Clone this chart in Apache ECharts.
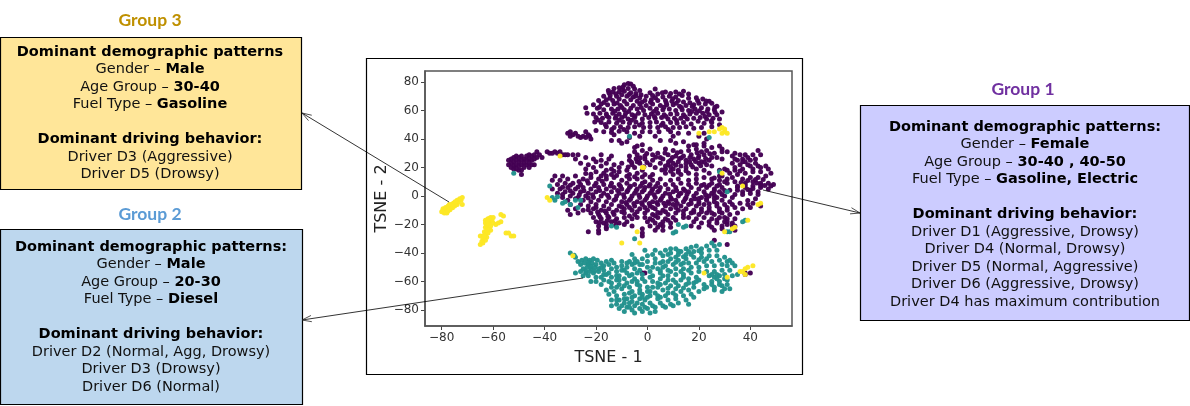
<!DOCTYPE html>
<html><head><meta charset="utf-8">
<style>html,body{margin:0;padding:0;background:#fff}#c{width:1190px;height:406px}</style>
<script src="https://cdn.jsdelivr.net/npm/echarts@6/dist/echarts.min.js"></script>
</head><body><div id="c"></div>
<script>
const xTicks=[-80,-60,-40,-20,0,20,40];
const yTicks=[-80,-60,-40,-20,0,20,40,60,80];
const group1Upper=[[-9,78],[-7.5,79],[-6.5,78.5],[-5.5,77],[-13,75.5],[-11,76],[-9.5,76.5],[-7.5,75.5],[-5,75],[-3,74],[-15,72.5],[-13.5,73],[-11,73],[-9,73.5],[-6.5,72.5],[-4.5,72],[-2.5,71],[1,72.5],[3,75],[7,73],[9,72],[11,73],[14,73.5],[16,71.5],[-17,70],[-14.5,70.5],[-12,70],[-10,71],[-8,70],[-5.5,69.5],[-3,69],[-0.5,70],[2,70.5],[4,71.5],[6,69.5],[8.5,70],[11,69.5],[13.5,70.5],[16,68.5],[-19,67],[-16,67.5],[-13.5,67],[-11,68],[-9,66.5],[-6.5,67.5],[-4,66.5],[-1,67],[1.5,67.5],[4,67],[7,67],[9.5,66.5],[12,67],[14,66],[16.5,65.5],[19.5,67],[21.5,68],[24,66.5],[-21,64],[-18,64.5],[-15.5,64],[-13,64.5],[-10.5,63.5],[-8,64.5],[-5.5,63.5],[-3,64.5],[-0.5,63.5],[2,64.5],[5,63.5],[7.5,64],[10,64],[12.5,63],[15,63.5],[18,64],[20,65],[22.5,64.5],[25,65],[27,63],[-24,62],[-19.5,61.5],[-17,60.5],[-14,61],[-11.5,61],[-9,60.5],[-6.5,61.5],[-4,61],[-1.5,60],[1,61.5],[3.5,61],[6,60.5],[8.5,61],[11,60],[13.5,60.5],[16,60],[18.5,61],[21,62],[23.5,61],[26,60.5],[29,59],[-23.5,58],[-21,57.5],[-18.5,58],[-16,57.5],[-13.5,58],[-11,57.5],[-8.5,58],[-6,57],[-3.5,58],[-1,57],[1.5,57.5],[4,58],[6.5,57],[9,57.5],[11.5,57.5],[14,57],[16.5,57.5],[19,58],[21.5,58],[24,57],[27,57],[-20,55],[-17.5,54.5],[-15,55],[-12.5,54.5],[-10,55],[-7.5,54],[-5,55],[-2,54],[0.5,55],[3,54.5],[5.5,55],[8,54],[10.5,54.5],[13,54.5],[15.5,54],[18,54.5],[20.5,55],[23,54],[25.5,54.5],[28,54],[-20.5,52],[-18,51.5],[-15,52],[-12,51],[-9.5,52],[-7,51],[-4.5,52],[-2,51],[1,51.5],[3.5,52],[6,51],[9,51.5],[11.5,51],[14,51.5],[17,50.5],[22,51],[25,51.5],[28,50],[-16,48.5],[-13,48],[-10.5,48.5],[-7.5,48],[-5,48.5],[-1.5,48],[1,48.5],[4,48],[7,48.5],[10,48],[12.5,48],[15,48.5],[18,47.5],[21,48],[25,48.5],[-20,46],[-17,45],[-14,44.5],[-11,45.5],[-8,45],[-5,44],[-2,45],[1,45],[4.5,45],[9,45],[12,44],[16,44],[-13,43],[-7,41],[-3,42],[3,42],[10,42],[20,42],[22,44],[23,40],[22,37],[-11,39],[-5,34],[-4,35],[5,39],[9,39],[11,37],[14,38],[18,36]];
const group1UpperDense=[[-15.2,74.1],[-12.3,71.8],[-9.8,74.6],[-7.2,71.2],[-11.8,65.3],[-14.6,68.6],[-16.9,65.6],[-18.7,62.3],[-12.7,59.4],[-9.9,62.1],[-7.3,59.2],[-15.8,56.2],[-12.2,55.9],[-8.8,56.1],[-19.2,53.4],[-16.4,50.1],[-11.1,53.2],[-4.6,70.2],[-2.2,65.8],[1.2,65.7],[3.1,68.9],[5.8,72.4],[7.3,65.4],[9.8,68.2],[12.4,71.6],[11.2,65.1],[13.2,62.1],[6.4,62.2],[2.4,59.2],[-2.4,62.1],[-4.8,56.3],[2.7,55.8],[7.2,55.7],[11.3,52.9],[14.7,55.6],[17.2,59.3],[20.2,59.9],[23.2,59.2],[22.4,55.8],[26.3,58.8],[24.8,52.6],[19.7,52.4],[-6.2,53.2],[-3.1,49.8],[5.4,49.7],[8.1,46.6],[-13.9,46.6],[-9.2,46.7],[17.4,62.8],[19,69],[22.8,66.7],[26.2,62.2]];
const group1Arm=[[-31,44],[-30,45],[-29,43],[-28,44],[-27,42],[-26,41],[-25,42],[-24,41],[-23,43],[-22.5,42],[-24,45],[-22,40],[-14,39],[-30,42]];
const group1Side=[[-54,25],[-53,26],[-52,27],[-51,28],[-50,27],[-49,28],[-48,26],[-47,28],[-46,29],[-45,28],[-44,29],[-43,31],[-42,29],[-41,27],[-53,23],[-52,24],[-51,25],[-50,24],[-49,25],[-48,23],[-47,25],[-46,26],[-45,25],[-44,26],[-43,27],[-54,22],[-52,21],[-51,22],[-50,21],[-49,22],[-48,20],[-47,22],[-46,23],[-53,20],[-52,19],[-50,18],[-49,18],[-51,19],[-46,20],[-44,22],[-45,22],[-49,15],[-39,31],[-38,30],[-37,30],[-36,31],[-35,30],[-34,31],[-33,29],[-32,29],[-31,29],[-29,29],[-27,29]];
const group1Middle=[[16,35],[19,36],[22,35],[25,34],[28,35],[29,33],[31,31],[34,30],[36,29],[43,32],[-5,31],[-2,32],[1,33],[4,30],[7,33],[10,32],[13,31],[16,32],[19,33],[21,31],[23,32],[26,30],[29,31],[33,28],[38,29],[41,29],[44,29],[-18,29],[-14,28],[-7,28],[-4,29],[-1,28],[2,29],[5,27],[8,29],[11,28],[14,28],[17,29],[20,28],[22,29],[25,27],[27,27],[37,26],[39,27],[42,26],[-28,26],[-24,27],[-21,26],[-18,25],[-15,26],[-7,25],[-4,24],[-1,26],[2,25],[6,26],[9,25],[12,24],[15,25],[18,26],[21,24],[24,25],[35,25],[37,24],[40,25],[-26,23],[-23,22],[-20,24],[-16,23],[-13,22],[-10,23],[-6,22],[-3,23],[1,22],[5,23],[8,22],[10,23],[13,21],[17,22],[20,23],[23,22],[33,23],[36,22],[39,22],[43,21],[46,21],[-24,19],[-21,20],[-18,21],[-14,19],[-11,20],[-8,18],[-5,20],[-2,18],[3,20],[7,19],[10,19],[12,18],[15,20],[19,19],[22,18],[30,19],[34,20],[37,19],[41,19],[44,20],[47,19],[-36,14],[-33,14],[-20,17],[-17,16],[-14,15],[-11,17],[-7,15],[-4,16],[-1,15],[2,15],[7,16],[10,15],[13,15],[16,16],[19,15],[24,16],[28,14],[32,16],[35,15],[38,16],[41,17],[44,17],[48,16],[-37,11],[-34,11],[-31,12],[-28,14],[-25,12],[-22,13],[-19,12],[-16,12],[-13,13],[-10,11],[-7,12],[-4,12],[-1,10],[2,11],[5,12],[9,11],[12,12],[16,11],[19,12],[22,13],[25,12],[28,11],[31,12],[34,10],[37,12],[40,13],[43,13],[46,14],[-35,8],[-32,9],[-29,9],[-26,8],[-23,9],[-20,9],[-17,8],[-14,9],[-11,8],[-8,9],[-5,8],[-2,9],[1,8],[4,9],[7,8],[10,8],[13,9],[16,8],[19,9],[22,8],[25,9],[28,8],[31,9],[35,7],[38,9],[41,10],[44,9],[47,9],[-37,5],[-34,5],[-31,6],[-28,5],[-25,6],[-22,5],[-19,6],[-16,5],[-13,6],[-10,5],[-7,6],[-4,5],[-1,6],[2,5],[5,6],[8,5],[11,6],[14,5],[17,6],[20,5],[23,6],[26,5],[29,6],[32,4],[35,4],[38,6],[41,7],[44,6],[47,5],[49,8],[48,7],[-35,2],[-32,3],[-29,2],[-26,3],[-23,2],[-20,3],[-17,2],[-14,3],[-11,2],[-8,3],[-5,2],[-2,3],[1,2],[4,3],[7,2],[10,3],[13,2],[16,3],[19,2],[22,3],[25,2],[28,3],[34,1],[37,3],[40,4],[43,3],[-33,-1],[-30,0],[-27,-1],[-24,0],[-21,-1],[-18,0],[-15,-1],[-12,0],[-9,-1],[-6,0],[-3,-1],[0,0],[3,-1],[6,0],[9,-1],[12,0],[15,-1],[18,0],[21,-1],[24,0],[27,-1],[30,0],[33,-1],[-31,-3],[-25,-3],[-22,-4],[-19,-3],[-16,-4],[-13,-3],[-10,-4],[-7,-3],[-4,-4],[-1,-3],[2,-4],[5,-3],[8,-4],[11,-3],[14,-4],[17,-3],[20,-4],[23,-3],[26,-4],[29,-3],[32,-4],[-30,-6],[-26,-6],[-23,-7],[-20,-6],[-17,-7],[-14,-6],[-11,-7],[-8,-6],[-5,-7],[-2,-6],[1,-7],[4,-6],[7,-7],[10,-6],[13,-7],[16,-6],[19,-7],[22,-6],[27,-7],[30,-6],[33,-6],[36,-5],[39,-6],[41,-5],[44,-7],[-31,-10],[-28,-9],[-25,-10],[-21,-9],[-18,-10],[-15,-9],[-12,-10],[-9,-9],[-6,-10],[-3,-9],[0,-10],[3,-9],[6,-10],[9,-9],[12,-10],[15,-9],[18,-10],[21,-9],[24,-10],[28,-9],[31,-10],[34,-8],[37,-9],[40,-8],[-30,-13],[-27,-12],[-22,-12],[-19,-13],[-16,-12],[-13,-13],[-9,-12],[-5,-13],[-1,-12],[2,-13],[5,-12],[8,-13],[11,-12],[14,-13],[17,-12],[20,-13],[23,-12],[26,-13],[29,-12],[32,-13],[35,-12],[-21,-15],[-18,-16],[-15,-15],[-12,-16],[-9,-15],[-6,-16],[-1,-15],[1,-16],[4,-15],[7,-16],[10,-15],[16,-15],[19,-16],[22,-15],[25,-16],[28,-15],[31,-16],[34,-16],[-20,-18],[-17,-19],[-14,-18],[-11,-19],[-8,-18],[0,-18],[3,-19],[6,-18],[9,-19],[18,-18],[21,-19],[24,-18],[27,-19],[30,-18],[33,-19],[-19,-21],[-16,-22],[-9,-20],[-6,-21],[1,-21],[4,-22],[6,-21],[9,-22],[17,-21],[20,-22],[25,-22],[29,-21],[31,-20],[-23,-25],[-19,-24],[-16,-23],[-2,-23],[3,-24],[6,-24],[26,-24],[29,-23],[-19,-26]];
const group1MiddleDense=[[-26.6,10.2],[-23.4,10.7],[-20.6,7.2],[-17.6,10.4],[-14.4,7.1],[-11.6,3.8],[-24.7,3.6],[-21.3,0.8],[-18.6,3.9],[-15.5,0.6],[-12.4,-2.2],[-9.3,0.9],[-6.5,-2],[-3.3,0.7],[-0.4,-1.6],[2.6,0.9],[5.4,-1.7],[-4.4,3.6],[-1.3,4.2],[1.7,3.7],[4.6,3.8],[-7.6,4],[-10.5,6.8],[-6.6,6.9],[-2.7,6.8],[0.6,7],[3.2,6.7],[-8.4,-4.6],[-5.3,-5.2],[-2.3,-4.8],[0.7,-5.2],[3.6,-4.6],[6.4,-5],[9.4,-2.2],[12.4,1.4],[15.4,1.2],[18.5,-2],[8.6,1.2],[11.3,3.9],[14.5,3.8],[8.4,-5.2],[11.6,-5.2],[14.6,-2.2],[-3.2,23.8],[-1.4,20.6],[-4.4,26.2],[-6.2,23.6],[-0.2,23.5],[-7.5,20.3],[-2.8,26.9],[-0.3,29.8],[3.2,27.2],[6.8,30.2],[9.7,27],[11.6,30.3],[12.5,26.4],[8.2,24],[7,21],[9,20.6],[11,21.6],[15,22.6],[13.2,26.8],[16.5,27],[16.4,24],[18.7,24.2],[19.3,30.3],[17.6,20.3],[20.7,21.3],[22.6,26.4],[24.2,29.6],[22.2,23.6],[19.8,26.6],[12,16.6],[15,17.8],[9,17.4],[5.6,18.2],[-15.4,-14.2],[-18.5,-14.5],[-16.5,-10.6],[-13.4,-11.4],[-19.4,-11.2],[-15.6,-17.2],[-12.6,-17.5],[-16,-20],[-18.6,-18.5],[-12.4,-20.6],[-23,-1.4],[-26.5,0.8],[-28,-2],[-30,3.6],[-27,6.4],[-30,7.6],[-33,6.2],[-33,1],[-16,18],[-13,17.4],[-18,14],[-22,15.3],[-24,15.8],[-16,14.1],[-12,14.3],[-8,13.8],[-5,13.5],[-2,13.3],[1,13.4],[35,6],[38,7.6],[41,5.2],[44,7.6],[39,4.6],[36.4,9.4],[42.5,9.2],[45.6,7.4],[42,11.6],[39,10.8],[45,11.6],[40,1.8],[43,1],[37,1],[42,-2],[39,-3.2],[21,7.4],[24,7.6],[27,7],[30,3.8],[26,3.6],[22.6,0.8],[26,0.6],[23,-1.6],[29,1],[26,-1.8],[20,-1.7],[17,-5.2],[20,-5.4],[24,-5.4],[27,-5.2],[24,-8],[21,-11],[18,-11.4],[14,-10.6],[11,-8],[7,-11],[4,-11.6],[2,-8],[-1,-8],[-4,-11],[-7,-8],[-10,-11],[-10,-7.5],[-20,-8],[-23,-9.6],[28,-11],[31,-8],[25,-12],[30,-15],[27,-16.8],[31,-18],[24,-20.5],[8,-17],[5,-20],[2,-17],[14,-15],[11,-17],[3,-13.8],[-4,-15],[-7,-14],[29,14],[31,18],[26,12.6],[33,13],[30,10],[34,18],[28,18],[25,21],[29,26],[34,26],[38,24],[40,21],[42,23],[36,17.6]];
const group1Strays=[[-2,-26],[-2,-28],[26,-31],[31,-34],[33,-21],[34,-21],[34,-24],[38,-55],[40,-54],[-2,-54],[-1,-54],[38,-54],[-8,38],[-2,36],[-10,37]];
const group2Main=[[-30,-40],[-28.5,-41.5],[-28,-43],[-27,-46],[-25.5,-45],[-24,-44],[-22.5,-45],[-21,-44],[-19.5,-45],[-26,-48],[-24.5,-47],[-23,-48],[-21.5,-47],[-20,-48],[-18,-47],[-16,-46],[-14,-45],[-25,-51],[-23.5,-50],[-22,-51],[-20.5,-50],[-19,-51],[-17,-49],[-15,-48],[-13,-47],[-28,-54],[-26,-53],[-24,-54],[-22.5,-53],[-21,-54],[-19,-53],[-17,-52],[-14,-51],[-12,-50],[-10,-49],[-25,-56],[-23,-56],[-20,-57],[-17,-55],[-15,-54],[-12,-53],[-9,-52],[-7,-46],[-5,-44],[-8,-50],[-6,-48],[-4,-46],[-2,-44],[0,-42],[2,-41],[3,-38],[5,-40],[7,-38],[9,-37],[11,-37],[13,-39],[15,-37],[17,-36],[19,-35],[21,-37],[23,-35],[25,-33],[26,-35],[28,-34],[27,-38],[24,-38],[21,-40],[18,-39],[15,-41],[12,-41],[9,-40],[6,-42],[3,-44],[0,-46],[-3,-48],[-5,-51],[-8,-54],[-11,-56],[-14,-57],[-17,-59],[-20,-60],[-22,-60],[-18,-62],[-15,-60],[-12,-59],[-9,-58],[-6,-55],[-3,-52],[0,-50],[3,-47],[6,-46],[9,-44],[12,-45],[15,-44],[18,-43],[21,-43],[24,-42],[27,-42],[30,-43],[32,-45],[33,-47],[34,-49],[31,-46],[28,-45],[25,-46],[22,-46],[19,-47],[16,-47],[13,-48],[10,-48],[7,-49],[4,-51],[1,-53],[-2,-58],[-5,-58],[-8,-61],[-11,-62],[-14,-64],[-16,-66],[-13,-67],[-10,-65],[-7,-64],[-4,-62],[-1,-60],[2,-56],[5,-54],[8,-52],[11,-51],[14,-51],[17,-50],[20,-50],[23,-49],[26,-49],[29,-48],[31,-49],[32,-52],[29,-52],[26,-53],[23,-53],[20,-53],[17,-54],[14,-55],[11,-55],[8,-56],[5,-58],[2,-60],[0,-64],[-3,-66],[-6,-67],[-9,-69],[-12,-70],[-15,-69],[-14,-73],[-11,-73],[-8,-72],[-5,-70],[-2,-69],[1,-67],[4,-64],[7,-61],[10,-59],[13,-59],[16,-58],[19,-57],[24,-56],[26,-57],[28,-56],[30,-55],[33,-56],[35,-55],[31,-59],[28,-60],[25,-60],[22,-62],[18,-61],[15,-62],[12,-63],[9,-63],[6,-66],[3,-68],[0,-71],[-3,-72],[-6,-74],[-9,-75],[-12,-76],[-14,-77],[-11,-79],[-8,-78],[-5,-77],[-2,-76],[1,-75],[4,-72],[7,-70],[10,-68],[13,-67],[16,-66],[18,-64],[23,-64],[26,-64],[29,-63],[31,-62],[32,-65],[29,-67],[26,-66],[22,-65],[20,-67],[17,-69],[14,-70],[11,-72],[8,-73],[5,-75],[3,-78],[0,-79],[-3,-79],[-6,-80],[-9,-81],[-5,-82],[-2,-81],[1,-82],[3,-81],[-7,-78],[6,-77],[9,-76],[12,-75],[15,-73],[18,-71],[-16,-55],[-10,-46],[-6,-41],[-1,-38],[-4,-54],[-6,-60],[1,-57],[4,-61],[9,-53],[14,-47],[4,-70],[7,-78],[10,-77],[16,-76],[-3,-63],[19,-60],[6,-50],[-12,-56],[-18,-57],[-7,-68],[-1,-73]];
const group2Dense=[[-23,-46.4],[-20.6,-52.6],[-24,-52.6],[-18,-50.2],[-22,-49.4],[8,-41],[11,-43],[14,-42.6],[17,-41],[20,-44.8],[23,-44],[12,-38.6],[16,-39],[20,-38.4],[5,-47],[8,-46],[11,-46.4],[2,-50],[5,-52.4],[8,-59],[11,-60.6],[14,-57],[11,-65],[14,-64.6],[8,-68],[11,-69.8],[5,-71],[8,-64.8],[5,-62],[2,-64],[-2,-71],[1,-70],[-4,-75],[-1,-78],[2,-77],[-3,-68],[0,-67],[-6,-71],[-9,-72],[-12,-73],[-10,-77],[-7,-75],[27,-55],[30,-58],[28,-62],[25,-62],[27,-58],[30,-65],[25,-55],[-5,-47],[-2,-48],[-8,-47],[-10,-52],[-7,-56],[-11,-59],[-14,-61],[-4,-60],[-2,-55],[-12,-64],[-9,-63],[20,-59],[16,-61],[6,-56],[13,-53],[16,-52]];
const group2Strays=[[-52,16],[-38,7],[-37,-1],[-36,-3],[-35,-0.5],[-33,-5],[-32,-4],[-30,-6],[-28,-3],[-27,-8],[-26,-3],[-14,-21],[-12,-22],[-7,42],[24,41],[28,17],[31,3],[38,-17],[37,-18],[31,-25],[32,-25],[11,-25],[10,-26],[15,-21],[14,-22],[12,-20],[-5,-30]];
const group3Left=[[-80,-11],[-79.5,-9],[-79,-12],[-79,-10],[-78.5,-8],[-78,-10],[-78,-12],[-77.5,-7],[-77,-9],[-77,-6],[-76.5,-8],[-76,-7],[-75.5,-5],[-75,-7],[-75,-5],[-74.5,-6],[-74,-3],[-74,-6],[-73.5,-4],[-73,-2],[-72.5,-3],[-72,-1],[-72,-6],[-79.6,-10.6],[-78.6,-11],[-78.2,-9],[-77.2,-8],[-76.2,-6],[-75.8,-8.2],[-74.8,-4],[-76.8,-9.6],[-77.6,-10.6]];
const group3Centre=[[-63,-17],[-63,-19],[-62.5,-21],[-62,-16],[-61.5,-18],[-61,-15],[-60.5,-17],[-60,-15],[-60,-19],[-62,-23],[-63,-22],[-61,-21],[-59,-20],[-58,-19],[-57,-18],[-61,-24],[-62,-26],[-63,-27],[-64,-28],[-65,-28],[-63.5,-29],[-62.5,-29],[-64,-30],[-63,-31],[-64,-33],[-65,-34],[-57,-13],[-56,-14],[-55,-26],[-54,-26],[-53,-28],[-52,-28],[-62,-19.5],[-61.5,-16],[-62.2,-17.6],[-63.4,-25],[-62.6,-24.5],[-64.4,-32],[-63.6,-28]];
const group3Strays=[[-39,-1],[-38,-3],[-34,28],[20,44],[24,45],[26,45],[28,47],[29,48],[30,47],[30,45],[31,44],[29,44],[-2,20],[-1.5,20],[29,16],[37,7],[44,-5],[43,-6],[39,-17],[34,-22],[33,-23],[30,-25],[-4,-25],[-10,-33],[-3,-33],[-29,-42],[22,-54],[31,-57],[36,-53],[37,-53],[38,-51],[38,-55],[39,-50],[41,-49]];

const boxes=[
 {title:'Group 3',color:'#bf9000',tx:150,ty:20,x:0.5,y:37.5,w:301,h:152,fill:'#ffe699',top:52,cx:150,lines:[
  [['Dominant demographic patterns',1]],[['Gender – ',0],['Male',1]],[['Age Group – ',0],['30-40',1]],[['Fuel Type – ',0],['Gasoline',1]],[],
  [['Dominant driving behavior:',1]],[['Driver D3 (Aggressive)',0]],[['Driver D5 (Drowsy)',0]]]},
 {title:'Group 2',color:'#5b9bd5',tx:150,ty:214,x:0.5,y:229.5,w:302,h:175,fill:'#bdd7ee',top:247,cx:151,lines:[
  [['Dominant demographic patterns:',1]],[['Gender – ',0],['Male',1]],[['Age Group – ',0],['20-30',1]],[['Fuel Type – ',0],['Diesel',1]],[],
  [['Dominant driving behavior:',1]],[['Driver D2 (Normal, Agg, Drowsy)',0]],[['Driver D3 (Drowsy)',0]],[['Driver D6 (Normal)',0]]]},
 {title:'Group 1',color:'#7030a0',tx:1023,ty:89,x:860.5,y:105.5,w:329,h:215,fill:'#ccccff',top:127,cx:1025,lines:[
  [['Dominant demographic patterns:',1]],[['Gender – ',0],['Female',1]],[['Age Group – ',0],['30-40 , 40-50',1]],[['Fuel Type – ',0],['Gasoline, Electric',1]],[],
  [['Dominant driving behavior:',1]],[['Driver D1 (Aggressive, Drowsy)',0]],[['Driver D4 (Normal, Drowsy)',0]],[['Driver D5 (Normal, Aggressive)',0]],[['Driver D6 (Aggressive, Drowsy)',0]],[['Driver D4 has maximum contribution',0]]]}
];
const arrows=[[449,202,302,113],[583,278,302,320],[763,190,860,213]];

const font='"DejaVu Sans"';
const g=[{type:'rect',silent:true,z:0,shape:{x:366.5,y:58.5,width:436,height:316},style:{fill:'#fff',stroke:'#000',lineWidth:1.2}}];
boxes.forEach(b=>{
 g.push({type:'rect',silent:true,shape:{x:b.x,y:b.y,width:b.w,height:b.h},style:{fill:b.fill,stroke:'#000',lineWidth:1.2}});
 g.push({type:'text',silent:true,style:{x:b.tx,y:b.ty,text:b.title,fill:b.color,font:'bold 17.5px Lato',align:'center',verticalAlign:'middle'}});
 b.lines.forEach((l,i)=>{
  if(!l.length)return;
  g.push({type:'text',silent:true,style:{x:b.cx,y:b.top+i*17.5,align:'center',verticalAlign:'middle',
   text:l.map(s=>'{'+(s[1]?'b':'n')+'|'+s[0]+'}').join(''),
   rich:{b:{font:'bold 14.5px '+font,fill:'#000'},n:{font:'14.5px '+font,fill:'#111'}}}});
 });
});
arrows.forEach(a=>{
 const [x0,y0,x1,y1]=a;
 const ang=Math.atan2(y0-y1,x0-x1),L=10,s=0.32;
 g.push({type:'line',silent:true,z:20,shape:{x1:x0,y1:y0,x2:x1,y2:y1},style:{stroke:'#000',lineWidth:0.8}});
 g.push({type:'polyline',silent:true,z:20,shape:{points:[[x1+L*Math.cos(ang+s),y1+L*Math.sin(ang+s)],[x1,y1],[x1+L*Math.cos(ang-s),y1+L*Math.sin(ang-s)]]},style:{stroke:'#222',lineWidth:0.8,fill:'none'}});
});

const minus=v=>String(v).replace('-','\u2212');
const axisBase={type:'value',splitLine:{show:false},axisLine:{show:true,onZero:false,lineStyle:{color:'#555',width:1.5}},
 axisTick:{show:true,length:4,lineStyle:{color:'#444',width:1}},nameLocation:'middle',nameTextStyle:{fontFamily:font,fontSize:16,color:'#222'}};
const chart=echarts.init(document.getElementById('c'),null,{renderer:'canvas'});
const ser=(name,color,data)=>({name,type:'scatter',data,symbolSize:5,itemStyle:{color,opacity:0.97},silent:true,animation:false,z:3});
chart.setOption({animation:false,backgroundColor:'#fff',
 grid:{left:425,top:71,width:367,height:255,show:true,borderColor:'#555',borderWidth:1.5,backgroundColor:'transparent',z:2},
 xAxis:{...axisBase,min:-86.5,max:56.2,name:'TSNE - 1',nameGap:24,
  axisTick:{...axisBase.axisTick,customValues:xTicks},
  axisLabel:{customValues:xTicks,formatter:minus,fontFamily:font,fontSize:12,color:'#333',margin:6}},
 yAxis:{...axisBase,min:-91.2,max:87.7,name:'TSNE - 2',nameGap:33,
  axisTick:{...axisBase.axisTick,customValues:yTicks},
  axisLabel:{customValues:yTicks,formatter:minus,fontFamily:font,fontSize:12,color:'#333',margin:6}},
 series:[
  ser('Group 1','#440154',[...group1Upper,...group1UpperDense,...group1Arm,...group1Side,...group1Middle,...group1MiddleDense,...group1Strays]),
  ser('Group 2','#21918c',[...group2Main,...group2Dense,...group2Strays]),
  ser('Group 3','#fde725',[...group3Left,...group3Centre,...group3Strays])
 ],
 graphic:{elements:g}
});
</script></body></html>
